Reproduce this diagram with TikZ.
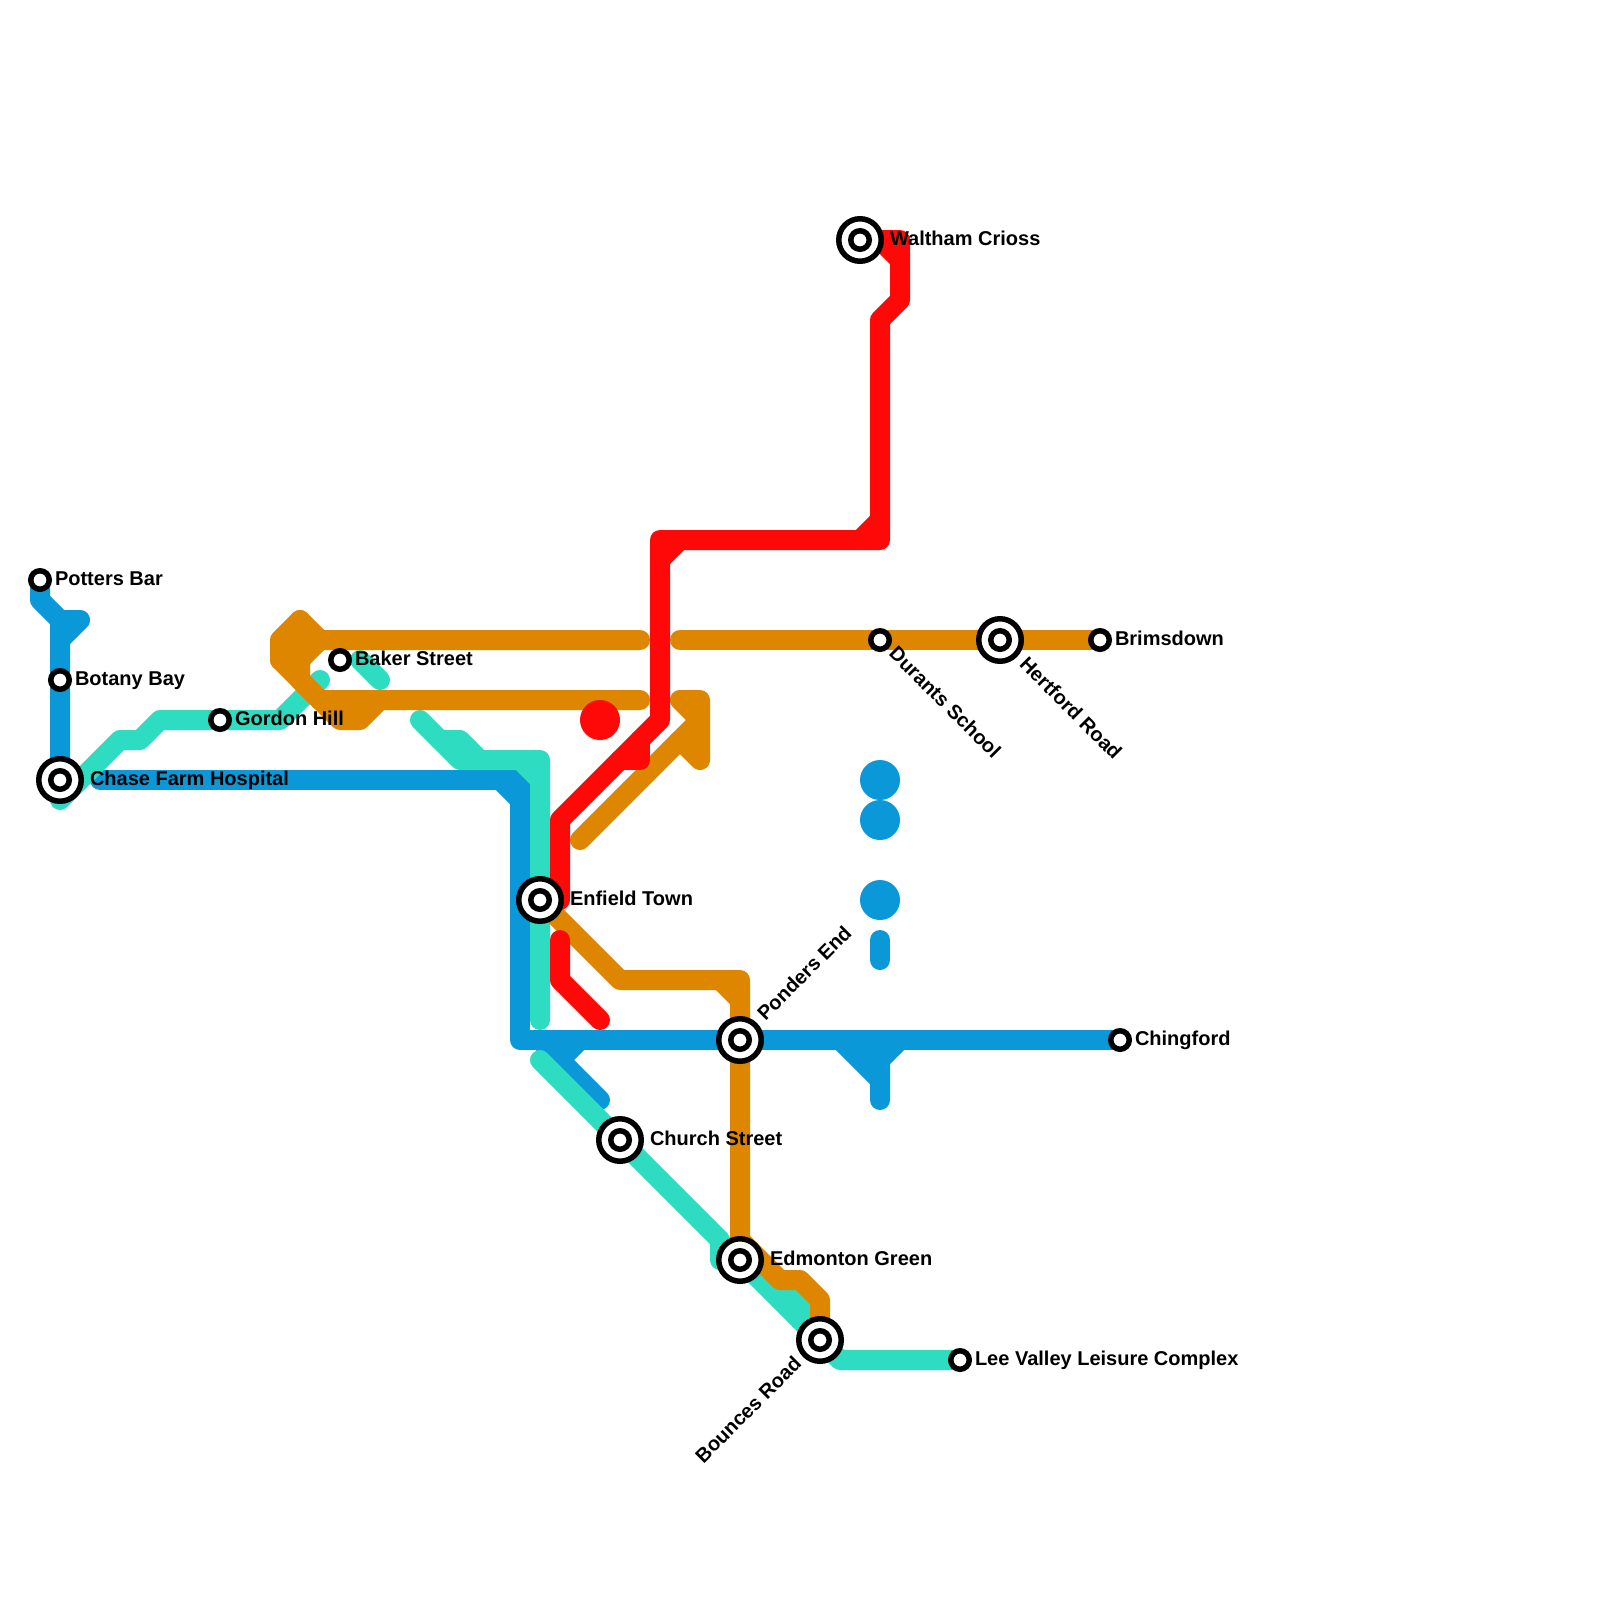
\documentclass[tikz,border=0pt]{standalone}
\usepackage{fontspec}
\setmainfont{Liberation Sans}
\definecolor{lblue}{HTML}{0A98D9}
\definecolor{lteal}{HTML}{2EDDC1}
\definecolor{lorange}{HTML}{DE8600}
\definecolor{lred}{HTML}{FF0808}
\tikzset{
  x=0.5pt,y=-0.5pt,
  metro/.style={line width=10pt,line cap=round,line join=round},
  blueline/.style={metro,draw=lblue},
  tealline/.style={metro,draw=lteal},
  orangeline/.style={metro,draw=lorange},
  redline/.style={metro,draw=lred},
  smallstn/.style={circle,draw=black,fill=white,line width=2.75pt,minimum size=9.25pt,inner sep=0pt,outer sep=0pt},
  bigstn/.style={circle,draw=black,fill=white,line width=2.75pt,minimum size=21.25pt,inner sep=0pt,outer sep=0pt},
  lbl/.style={anchor=base west,inner sep=0pt,outer sep=0pt,font=\bfseries\fontsize{10}{12}\selectfont,text=black},
  lble/.style={lbl,anchor=base east},
  dot/.style={circle,minimum size=20pt,inner sep=0pt,outer sep=0pt}
}
\begin{document}
\begin{tikzpicture}
\useasboundingbox (0,0) rectangle (1600,1600);
\fill[white] (0,0) rectangle (1600,1600);
% station positions
\coordinate (cPotters) at (40,580);
\coordinate (cBotany) at (60,680);
\coordinate (cChase) at (60,780);
\coordinate (cGordon) at (220,720);
\coordinate (cBaker) at (340,660);
\coordinate (cEnfield) at (540,900);
\coordinate (cWaltham) at (860,240);
\coordinate (cDurants) at (880,640);
\coordinate (cHertford) at (1000,640);
\coordinate (cBrims) at (1100,640);
\coordinate (cChing) at (1120,1040);
\coordinate (cPonders) at (740,1040);
\coordinate (cChurch) at (620,1140);
\coordinate (cEdmonton) at (740,1260);
\coordinate (cBounces) at (820,1340);
\coordinate (cLee) at (960,1360);
% blue
\draw[blueline] (cPotters) -- (40,600) -- (60,620) -- (cBotany) -- (cChase);
\draw[blueline] (60,620) -- (80,620) -- (60,640);
\draw[blueline] (100,780) -- (520,780) -- (520,1040) -- (cPonders) -- (cChing);
\draw[blueline] (500,780) -- (520,800);
\draw[blueline] (540,1040) -- (600,1100);
\draw[blueline] (580,1040) -- (560,1060);
\draw[blueline] (840,1040) -- (880,1080) -- (880,1100);
\draw[blueline] (900,1040) -- (880,1060) -- (880,1080);
\draw[blueline] (860,1040) -- (880,1060);
\draw[blueline] (880,940) -- (880,960);
\node[dot,fill=lblue] (bd1) at (880,780) {};
\node[dot,fill=lblue] (bd2) at (880,820) {};
\node[dot,fill=lblue] (bd3) at (880,900) {};
% teal
\draw[tealline] (60,800) -- (120,740) -- (140,740) -- (160,720) -- (cGordon) -- (280,720) -- (320,680);
\draw[tealline] (360,660) -- (380,680);
\draw[tealline] (420,720) -- (460,760) -- (540,760) -- (cEnfield) -- (540,1020);
\draw[tealline] (440,740) -- (460,740) -- (480,760);
\draw[tealline] (520,760) -- (540,780);
\draw[tealline] (540,1060) -- (cChurch) -- (720,1240) -- (720,1260) -- (cEdmonton) -- (cBounces) -- (840,1360) -- (cLee);
\draw[tealline] (780,1280) -- (800,1300) -- (800,1320);
% orange
\draw[orangeline] (280,660) -- (280,640) -- (300,620) -- (320,640) -- (640,640);
\draw[orangeline] (300,620) -- (300,680) -- (320,700);
\draw[orangeline] (320,640) -- (300,660);
\draw[orangeline] (280,660) -- (320,700) -- (640,700);
\draw[orangeline] (320,700) -- (340,720) -- (360,720) -- (380,700);
\draw[orangeline] (680,640) -- (cDurants) -- (cHertford) -- (cBrims);
\draw[orangeline] (580,840) -- (700,720);
\draw[orangeline] (700,720) -- (680,700) -- (700,700) -- (700,760) -- (680,740);
\draw[orangeline] (cEnfield) -- (620,980) -- (740,980) -- (cPonders) -- (cEdmonton);
\draw[orangeline] (720,980) -- (740,1000);
\draw[orangeline] (740,1240) -- (780,1280) -- (800,1280) -- (820,1300) -- (cBounces);
% red
\draw[redline] (560,900) -- (560,820) -- (660,720) -- (660,540) -- (880,540) -- (880,320) -- (900,300) -- (900,240) -- (cWaltham);
\draw[redline] (660,560) -- (680,540);
\draw[redline] (860,540) -- (880,520);
\draw[redline] (880,240) -- (900,260);
\draw[redline] (620,760) -- (640,760) -- (640,740);
\draw[redline] (560,940) -- (560,980) -- (600,1020);
\node[dot,fill=lred] (rd1) at (600,720) {};
% stations
\foreach \n in {Chase,Enfield,Waltham,Hertford,Ponders,Church,Edmonton,Bounces}{
  \node[bigstn] (b\n) at (c\n) {};
  \node[smallstn] (s\n) at (c\n) {};
}
\foreach \n in {Potters,Botany,Gordon,Baker,Durants,Brims,Ching,Lee}{
  \node[smallstn] (s\n) at (c\n) {};
}
% labels
\node[lbl] (tPotters) at (55,585) {Potters Bar};
\node[lbl] (tBotany) at (75,685) {Botany Bay};
\node[lbl] (tChase) at (90,785) {Chase Farm Hospital};
\node[lbl] (tGordon) at (235,725) {Gordon Hill};
\node[lbl] (tBaker) at (355,665) {Baker Street};
\node[lbl] (tEnfield) at (570,905) {Enfield Town};
\node[lbl] (tChurch) at (650,1145) {Church Street};
\node[lbl] (tEdmonton) at (770,1265) {Edmonton Green};
\node[lbl] (tWaltham) at (890,245) {Waltham Crioss};
\node[lbl] (tBrims) at (1115,645) {Brimsdown};
\node[lbl] (tChing) at (1135,1045) {Chingford};
\node[lbl] (tLee) at (975,1365) {Lee Valley Leisure Complex};
\node[lbl,rotate=45] (tPonders) at (765.5,1021.6) {Ponders End};
\node[lbl,rotate=-45] (tDurants) at (888,654.8) {Durants School};
\node[lbl,rotate=-45] (tHertford) at (1018.5,665.5) {Hertford Road};
\node[lble,rotate=45] (tBounces) at (802.5,1365) {Bounces Road};
\end{tikzpicture}
\end{document}
